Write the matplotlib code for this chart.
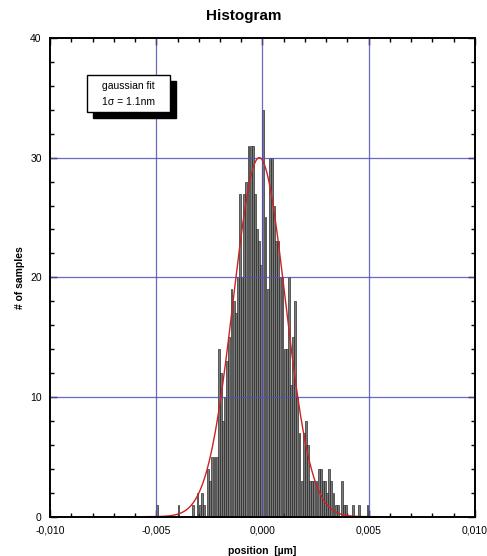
import matplotlib
matplotlib.use("Agg")
import matplotlib.pyplot as plt
from matplotlib.ticker import MultipleLocator, FuncFormatter
from matplotlib.patches import Rectangle
import numpy as np

plt.rcParams['font.family'] = ['Liberation Sans', 'DejaVu Sans']

# histogram: bins of 0.0001 um from -0.005 to 0.005
bin_start = -0.005
bin_width = 0.0001
counts = [1, 0, 0, 0, 0, 0, 0, 0, 0, 0,
          1, 0, 0, 0, 0, 0, 0, 1, 0, 2,
          1, 2, 1, 0, 4, 3, 5, 5, 5, 14,
          12, 8, 10, 13, 15, 19, 18, 17, 20, 27,
          20, 27, 28, 31, 31, 31, 27, 24, 23, 21,
          34, 25, 19, 30, 30, 26, 23, 23, 20, 20,
          14, 14, 20, 11, 15, 18, 10, 7, 3, 7,
          8, 6, 3, 3, 3, 3, 4, 4, 3, 3,
          2, 4, 3, 2, 1, 1, 0, 3, 1, 1,
          0, 0, 1, 0, 0, 1, 0, 0, 0, 1]

# gaussian fit parameters (um)
fit_amp = 30.0
fit_mu = -0.00015
fit_sigma = 0.00122

xticks = [-0.010, -0.005, 0.0, 0.005, 0.010]
yticks = [0, 10, 20, 30, 40]

fig = plt.figure(figsize=(4.87, 5.56), dpi=100)
ax = fig.add_axes([0.1027, 0.0707, 0.8726, 0.861])

edges = bin_start + bin_width * np.arange(len(counts))
ax.bar(edges, counts, width=bin_width * 0.85, align='edge',
       color='#7a7a7a', edgecolor='#202020', linewidth=0.45, zorder=2)

xf = np.linspace(-0.0055, 0.0055, 600)
yf = fit_amp * np.exp(-(xf - fit_mu) ** 2 / (2 * fit_sigma ** 2))
ax.plot(xf, yf, color='#cc2222', lw=1.0, zorder=4)

# blue grid on top
for gx in [-0.005, 0.0, 0.005]:
    ax.axvline(gx, color='#5050b8', lw=0.9, alpha=0.85, zorder=3)
for gy in [10, 20, 30]:
    ax.axhline(gy, color='#5050b8', lw=0.9, alpha=0.85, zorder=3)

ax.set_xlim(-0.010, 0.010)
ax.set_ylim(0, 40)
ax.set_xticks(xticks)
ax.set_yticks(yticks)
ax.xaxis.set_minor_locator(MultipleLocator(0.001))
ax.yaxis.set_minor_locator(MultipleLocator(2))
ax.xaxis.set_major_formatter(FuncFormatter(lambda v, p: ('%.3f' % v).replace('.', ',')))
ax.tick_params(which='both', direction='in', top=True, right=True, labelsize=7.5,
               width=1.0, colors='black')
ax.tick_params(which='major', length=5, pad=6)
ax.tick_params(which='minor', length=3)
for s in ax.spines.values():
    s.set_linewidth(1.4)
    s.set_zorder(5)

fig.text(0.5, 1 - 16 / 556, 'Histogram', ha='center', va='center',
         fontsize=11, fontweight='bold')
ax.set_xlabel('position  [\u00b5m]', fontsize=7.5, fontweight='bold', labelpad=8)
ax.set_ylabel('# of samples', fontsize=7.5, fontweight='bold', labelpad=4)

# legend box with shadow
bx, by, bw, bh = 87 / 487, 1 - 112 / 556, 83 / 487, 37 / 556
fig.patches.append(Rectangle((bx + 6 / 487, by - 6 / 556), bw, bh, transform=fig.transFigure,
                             facecolor='black', edgecolor='black', zorder=6))
fig.patches.append(Rectangle((bx, by), bw, bh, transform=fig.transFigure,
                             facecolor='white', edgecolor='black', lw=1.0, zorder=7))
fig.text(bx + bw / 2, by + bh * 0.70, 'gaussian fit', ha='center', va='center',
         fontsize=7.5, zorder=8)
fig.text(bx + bw / 2, by + bh * 0.28, '1\u03c3 = 1.1nm', ha='center', va='center',
         fontsize=7.5, zorder=8)

fig.savefig('out.png', dpi=100)
